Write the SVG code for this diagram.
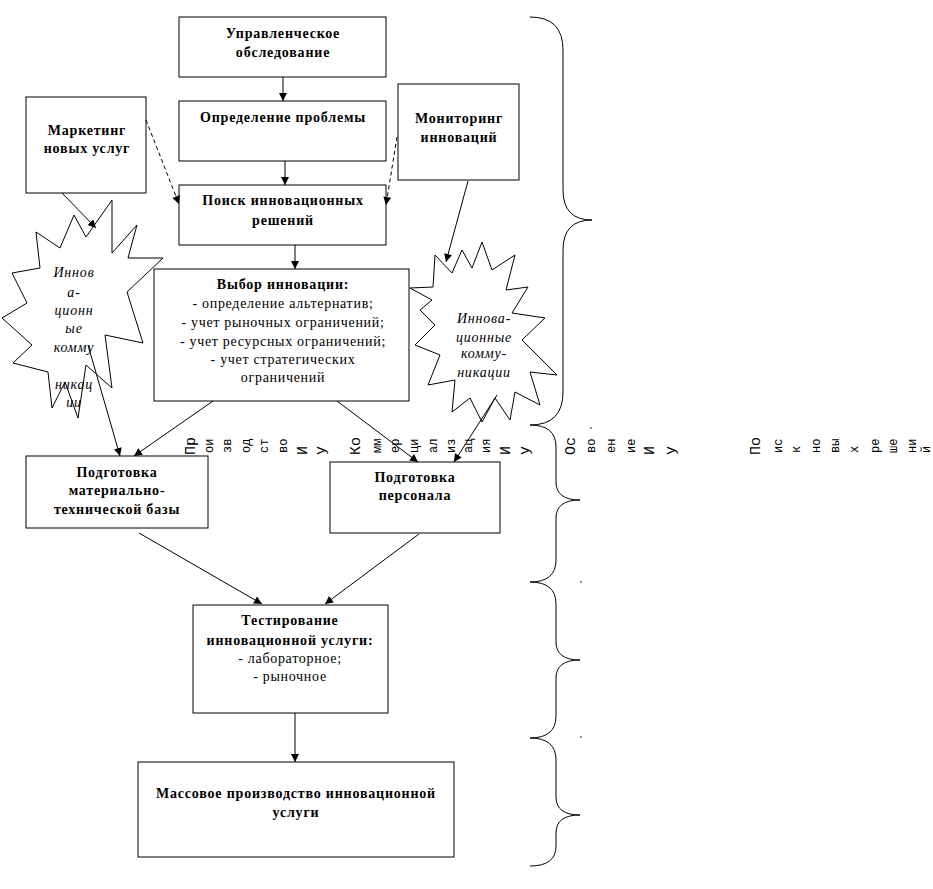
<svg xmlns="http://www.w3.org/2000/svg" width="933" height="889" viewBox="0 0 933 889">
<defs>
<marker id="ah" viewBox="0 0 10 10" refX="10" refY="5" markerWidth="9" markerHeight="8" markerUnits="userSpaceOnUse" orient="auto">
<path d="M0,0 L10,5 L0,10 Z" fill="#000"/>
</marker>
<style>
rect.b{fill:#fff;stroke:#000;stroke-width:1}
polygon.s{fill:#fff;stroke:#000;stroke-width:1}
.t{font-family:'Liberation Serif','Times New Roman','DejaVu Serif',serif;font-size:14px;font-weight:bold;text-anchor:middle;letter-spacing:0.8px;fill:#000}
.r{font-family:'Liberation Serif','Times New Roman','DejaVu Serif',serif;font-size:14px;text-anchor:middle;letter-spacing:0.7px;fill:#000}
.i{font-family:'Liberation Serif','Times New Roman','DejaVu Serif',serif;font-size:14px;font-style:italic;text-anchor:middle;letter-spacing:0.8px;fill:#000}
.vU{font-family:'Liberation Mono','Courier New','DejaVu Sans Mono',monospace;font-size:15px;fill:#000}
.vl{font-family:'Liberation Mono','Courier New','DejaVu Sans Mono',monospace;font-size:12px;fill:#000}
line.c{stroke:#000;stroke-width:1;marker-end:url(#ah)}
line.d{stroke:#000;stroke-width:1;stroke-dasharray:4,3;marker-end:url(#ah)}
path.br{fill:none;stroke:#000;stroke-width:1}
</style>
</defs>
<rect width="933" height="889" fill="#fff"/>

<g id="n-upr">
<rect class="b" x="179" y="17" width="207" height="60"/>
<text class="t" x="283" y="38">Управленческое</text>
<text class="t" x="283" y="57">обследование</text>
</g>
<g id="n-opr">
<rect class="b" x="179" y="101" width="207" height="60"/>
<text class="t" x="283" y="122">Определение проблемы</text>
</g>
<g id="n-poisk">
<rect class="b" x="179" y="185" width="207" height="60"/>
<text class="t" x="283" y="205">Поиск инновационных</text>
<text class="t" x="283" y="225">решений</text>
</g>
<g id="n-mark">
<rect class="b" x="26" y="97" width="120" height="96"/>
<text class="t" x="87" y="135">Маркетинг</text>
<text class="t" x="87" y="153">новых услуг</text>
</g>
<g id="n-mon">
<rect class="b" x="398" y="84" width="121" height="96"/>
<text class="t" x="459" y="123">Мониторинг</text>
<text class="t" x="459" y="142">инноваций</text>
</g>
<g id="n-star-left">
<polygon class="s" points="74,215 86,237 112,200 112,253 137,225 128,258 163,258 127,292 143,343 105,335 112,388 86,365 78,418 65,382 52,408 48,372 13,363 32,345 2,318 27,303 12,273 40,268 36,232 60,248"/>
<text class="i" x="74" y="277">Иннов</text>
<text class="i" x="74" y="297">а-</text>
<text class="i" x="74" y="315">ционн</text>
<text class="i" x="74" y="333">ые</text>
<text class="i" x="74" y="352">комму</text>
<text class="i" x="74" y="389">никац</text>
<text class="i" x="74" y="407">ии</text>
</g>
<g id="n-vybor">
<rect class="b" x="154" y="269" width="255" height="132"/>
<text class="t" x="283" y="289">Выбор инновации:</text>
<text class="r" x="283" y="308">- определение альтернатив;</text>
<text class="r" x="283" y="327">- учет рыночных ограничений;</text>
<text class="r" x="283" y="346">- учет ресурсных ограничений;</text>
<text class="r" x="283" y="364">- учет стратегических</text>
<text class="r" x="283" y="382">ограничений</text>
</g>
<g id="n-star-right">
<polygon class="s" points="435,255 452,273 462,250 472,268 482,242 492,270 515,255 506,290 528,287 512,313 545,318 522,340 557,375 530,372 540,405 515,392 510,420 495,398 482,422 470,398 452,412 455,380 428,385 440,355 415,345 435,325 420,310 432,300 410,288 433,287"/>
<text class="i" x="484" y="323">Иннова-</text>
<text class="i" x="484" y="342">ционные</text>
<text class="i" x="484" y="358">комму-</text>
<text class="i" x="484" y="377">никации</text>
</g>
<g id="n-mtb">
<rect class="b" x="26" y="456" width="182" height="72"/>
<text class="t" x="117" y="477">Подготовка</text>
<text class="t" x="117" y="495">материально-</text>
<text class="t" x="117" y="514">технической базы</text>
</g>
<g id="n-pers">
<rect class="b" x="330" y="462" width="170" height="71"/>
<text class="t" x="415" y="482">Подготовка</text>
<text class="t" x="415" y="500">персонала</text>
</g>
<g id="n-test">
<rect class="b" x="193" y="605" width="195" height="108"/>
<text class="t" x="290" y="625">Тестирование</text>
<text class="t" x="290" y="645">инновационной услуги:</text>
<text class="r" x="290" y="663">- лабораторное;</text>
<text class="r" x="290" y="681">- рыночное</text>
</g>
<g id="n-mass">
<rect class="b" x="138" y="762" width="316" height="95"/>
<text class="t" x="296" y="798">Массовое производство инновационной</text>
<text class="t" x="296" y="817">услуги</text>
</g>

<g id="connectors">
<line class="c" x1="283" y1="77" x2="283" y2="101"/>
<line class="c" x1="285" y1="161" x2="285" y2="185"/>
<line class="c" x1="295" y1="245" x2="295" y2="269"/>
<line class="d" x1="146" y1="120" x2="179" y2="204"/>
<line class="d" x1="397" y1="137" x2="386" y2="205"/>
<line class="c" x1="62" y1="193" x2="96" y2="228"/>
<line class="c" x1="468" y1="181" x2="446" y2="262"/>
<line class="c" x1="213" y1="401" x2="134" y2="456"/>
<line class="c" x1="88" y1="345" x2="120" y2="456"/>
<line class="c" x1="337" y1="401" x2="418" y2="462"/>
<line class="c" x1="497" y1="395" x2="454" y2="462"/>
<line class="c" x1="139" y1="533" x2="262" y2="604"/>
<line class="c" x1="419" y1="534" x2="325" y2="604"/>
<line class="c" x1="295" y1="713" x2="295" y2="762"/>
</g>

<g id="braces">
<path class="br" d="M530,17 Q563,17 563,50 L563,190 Q563,220 592,220 Q563,220 563,250 L563,392 Q563,425 530,425"/>
<path class="br" d="M530,425 Q556,425 556,447 L556,482 Q556,500 580,500 Q556,500 556,518 L556,560 Q556,582 530,582"/>
<path class="br" d="M530,582 Q556,582 556,604 L556,642 Q556,660 580,660 Q556,660 556,678 L556,716 Q556,738 530,738"/>
<path class="br" d="M530,738 Q556,738 556,760 L556,797 Q556,815 580,815 Q556,815 556,833 L556,846 Q556,866 530,866"/>
<circle cx="591" cy="428" r="0.8" fill="#000"/>
<circle cx="581" cy="582" r="0.8" fill="#000"/>
<circle cx="581" cy="737" r="0.8" fill="#000"/>
</g>

<g id="vertical-labels">
<text class="vU" transform="translate(195,455) rotate(-90)">Пр</text>
<text class="vl" transform="translate(213,453) rotate(-90)">ои</text>
<text class="vl" transform="translate(231,453) rotate(-90)">зв</text>
<text class="vl" transform="translate(250,453) rotate(-90)">од</text>
<text class="vl" transform="translate(268,453) rotate(-90)">ст</text>
<text class="vl" transform="translate(287,453) rotate(-90)">во</text>
<text class="vU" transform="translate(307,455) rotate(-90)">И</text>
<text class="vU" transform="translate(325,455) rotate(-90)">у</text>

<text class="vU" transform="translate(360,455) rotate(-90)">Ко</text>
<text class="vl" transform="translate(381,453) rotate(-90)">мм</text>
<text class="vl" transform="translate(399,453) rotate(-90)">ер</text>
<text class="vl" transform="translate(418,453) rotate(-90)">ци</text>
<text class="vl" transform="translate(437,453) rotate(-90)">ал</text>
<text class="vl" transform="translate(455,453) rotate(-90)">из</text>
<text class="vl" transform="translate(472,453) rotate(-90)">ац</text>
<text class="vl" transform="translate(490,453) rotate(-90)">ия</text>
<text class="vU" transform="translate(510,455) rotate(-90)">И</text>
<text class="vU" transform="translate(529,455) rotate(-90)">у</text>

<text class="vU" transform="translate(575,455) rotate(-90)">Ос</text>
<text class="vl" transform="translate(595,453) rotate(-90)">во</text>
<text class="vl" transform="translate(615,453) rotate(-90)">ен</text>
<text class="vl" transform="translate(635,453) rotate(-90)">ие</text>
<text class="vU" transform="translate(654,455) rotate(-90)">И</text>
<text class="vU" transform="translate(675,455) rotate(-90)">у</text>

<text class="vU" transform="translate(760,455) rotate(-90)">По</text>
<text class="vl" transform="translate(782,453) rotate(-90)">ис</text>
<text class="vl" transform="translate(800,453) rotate(-90)">к</text>
<text class="vl" transform="translate(820,453) rotate(-90)">но</text>
<text class="vl" transform="translate(839,453) rotate(-90)">вы</text>
<text class="vl" transform="translate(858,453) rotate(-90)">х</text>
<text class="vl" transform="translate(879,453) rotate(-90)">ре</text>
<text class="vl" transform="translate(897,453) rotate(-90)">ше</text>
<text class="vl" transform="translate(916,453) rotate(-90)">ни</text>
<text class="vl" transform="translate(930,453) rotate(-90)">й</text>
</g>
</svg>
